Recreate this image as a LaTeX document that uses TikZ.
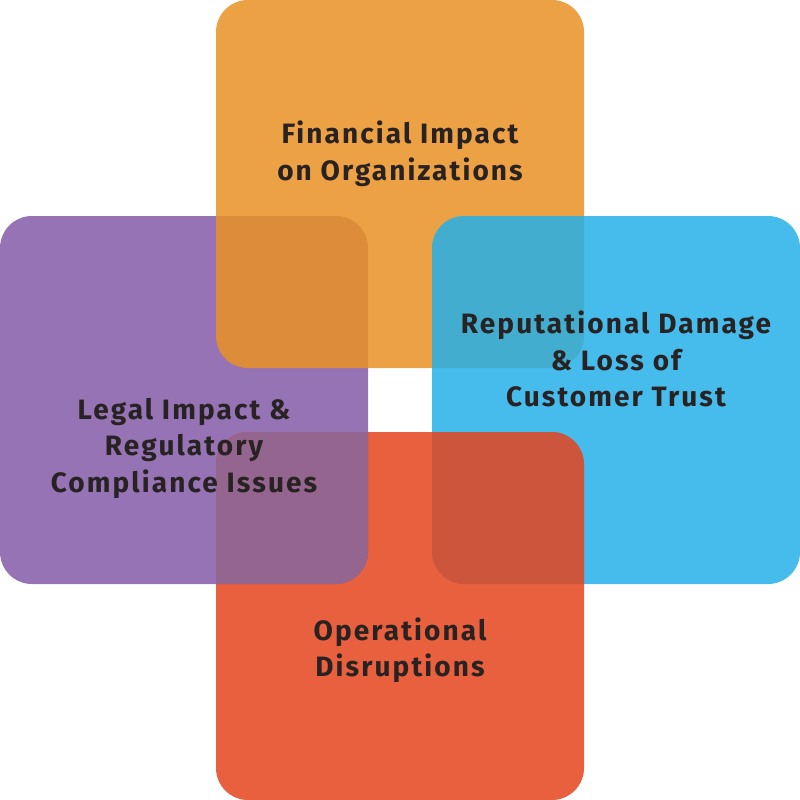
\documentclass[tikz,border=0pt]{standalone}
\usepackage{fontspec}
\newfontfamily\cardfont[LetterSpace=7.5]{Fira Sans}
\usetikzlibrary{positioning}
\definecolor{finorange}{RGB}{234,144,36}
\definecolor{legpurple}{RGB}{131,90,167}
\definecolor{repblue}{RGB}{36,176,232}
\definecolor{opsred}{RGB}{229,68,29}
\definecolor{legopsmix}{RGB}{147,101,143}
\definecolor{textdark}{RGB}{40,34,34}
\tikzset{
    card/.style={rounded corners=32pt, minimum size=368pt, inner sep=0pt, fill opacity=0.85},
    cardtext/.style={align=center, text=textdark, font=\cardfont\bfseries\fontsize{28}{36.5}\selectfont},
}

\begin{document}
\begin{tikzpicture}[x=1pt, y=-1pt]
    \useasboundingbox (0,0) rectangle (800,800);
    % the four cards, each over the one before
    \node[card, fill=legpurple] (leg) at (184,400) {};
    \node[card, fill=finorange] (fin) at (400,184) {};
    \node[card, fill=repblue]   (rep) at (616,400) {};
    \node[card, fill=opsred]    (ops) at (400,616) {};
    % purple goes over red again, to close the ring
    \begin{scope}
        \clip[rounded corners=32pt] (216,432) rectangle (584,800);
        \node[card, fill=legopsmix, fill opacity=1] (legtop) at (184,400) {};
    \end{scope}

    \node[cardtext] (fintext) at (400,154) {Financial Impact\\on Organizations};
    \node[cardtext] (reptext) at (616,359) {Reputational Damage\\\& Loss of\\Customer Trust};
    \node[cardtext] (legtext) at (184,448) {Legal Impact \&\\Regulatory\\Compliance Issues};
    \node[cardtext] (opstext) at (400,650) {Operational\\Disruptions};
\end{tikzpicture}
\end{document}
